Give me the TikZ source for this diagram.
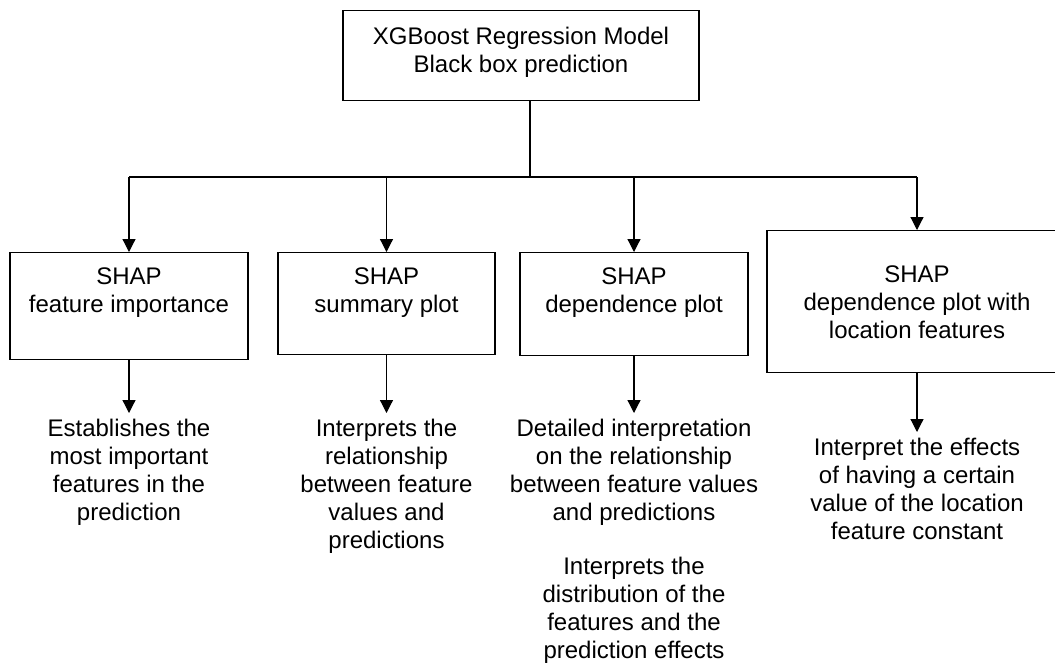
\documentclass[tikz,border=0pt]{standalone}
\usepackage{fontspec}
\setmainfont{Liberation Sans}
\usetikzlibrary{arrows.meta}

\begin{document}
\begin{tikzpicture}[x=0.5pt, y=-0.5pt, >={Triangle[length=6.5pt,width=6.5pt]}, line width=0.6pt,
    every node/.style={font=\fontsize{12}{14}\selectfont},
    shapbox/.style={draw, align=center, inner sep=0pt, anchor=north},
    desc/.style={align=center, inner sep=2.5pt, anchor=north}]
    \useasboundingbox (0,0) rectangle (1055,666);

    % Black box model
    \node[shapbox, minimum width=178pt, text height=31pt, text depth=14pt] (model) at (521,10) {XGBoost Regression Model\\Black box prediction};

    % SHAP boxes
    \node[shapbox, minimum width=119pt, text height=30pt, text depth=23.5pt] (fimp) at (129,252) {SHAP\\feature importance};
    \node[shapbox, minimum width=108.5pt, text height=30pt, text depth=21pt] (summ) at (386.5,252) {SHAP\\summary plot};
    \node[shapbox, minimum width=114pt, text height=30pt, text depth=21.5pt] (dep) at (634,252) {SHAP\\dependence plot};
    \node[shapbox, minimum width=150pt, text height=54pt, text depth=17pt] (loc) at (917,230) {SHAP\\dependence plot with\\location features};

    % Descriptions
    \node[desc] (fimpd) at (129,413) {Establishes the\\most important\\features in the\\prediction};
    \node[desc] (summd) at (386.5,413) {Interprets the\\relationship\\between feature\\values and\\predictions};
    \node[desc] (depd) at (634,413) {Detailed interpretation\\on the relationship\\between feature values\\and predictions};
    \node[desc] (depd2) at (634,551) {Interprets the\\distribution of the\\features and the\\prediction effects};
    \node[desc] (locd) at (917,432) {Interpret the effects\\of having a certain\\value of the location\\feature constant};

    % Branches
    \coordinate (bus) at (0,177);
    \draw ([xshift=4.5pt]model.south) -- ++(0,77);
    \draw (fimp.north |- bus) -- (loc.north |- bus);
    \foreach \b in {fimp,summ,dep,loc}
        \draw[->] (\b.north |- bus) -- (\b.north);

    % Box to description
    \draw[->] (fimp) -- (fimpd);
    \draw[->] (summ) -- (summd);
    \draw[->] (dep) -- (depd);
    \draw[->] (loc) -- (locd);
\end{tikzpicture}
\end{document}
